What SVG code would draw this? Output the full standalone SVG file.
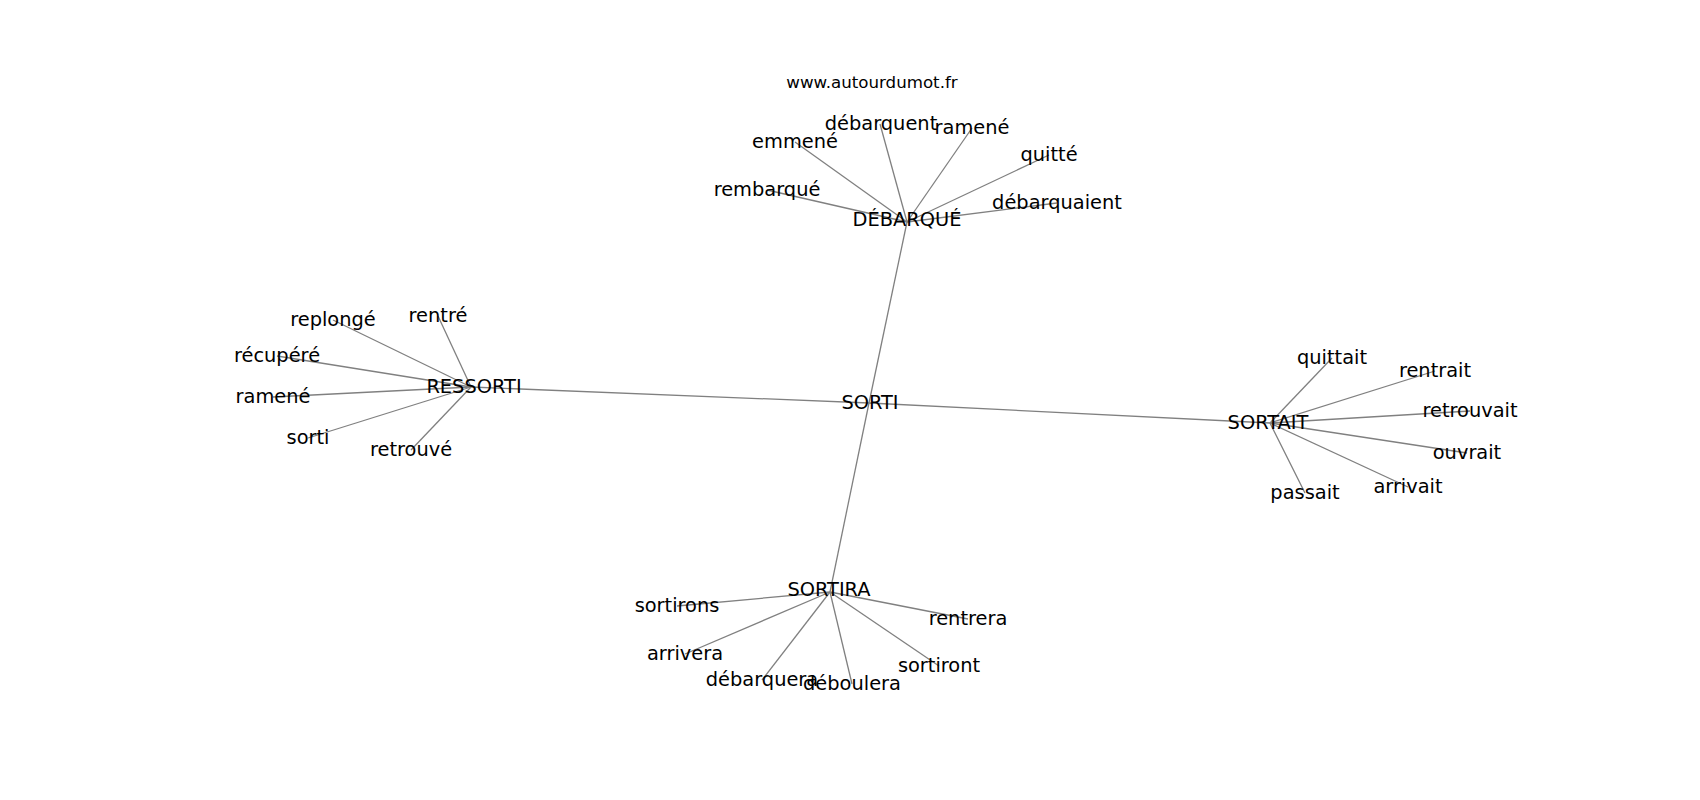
<svg xmlns="http://www.w3.org/2000/svg" width="1700" height="800" viewBox="0 0 1700 800">
<style>
.e{stroke:#808080;stroke-width:1.3;fill:none}
.l{font-family:"DejaVu Sans",sans-serif;font-size:19.4px;fill:#000;text-anchor:middle}
.t{font-family:"DejaVu Sans",sans-serif;font-size:16.67px;fill:#000;text-anchor:middle}
</style>
<rect width="1700" height="800" fill="#fff"/>
<g id="edges">
<line class="e" x1="869" y1="403" x2="907" y2="222"/>
<line class="e" x1="869" y1="403" x2="471" y2="387"/>
<line class="e" x1="869" y1="403" x2="1270" y2="423"/>
<line class="e" x1="869" y1="403" x2="830" y2="592"/>
<line class="e" x1="907" y1="222" x2="880" y2="124"/>
<line class="e" x1="907" y1="222" x2="972" y2="128"/>
<line class="e" x1="907" y1="222" x2="795" y2="142"/>
<line class="e" x1="907" y1="222" x2="1049" y2="155"/>
<line class="e" x1="907" y1="222" x2="767" y2="190"/>
<line class="e" x1="907" y1="222" x2="1057" y2="203"/>
<line class="e" x1="471" y1="387" x2="333" y2="320"/>
<line class="e" x1="471" y1="387" x2="438" y2="316"/>
<line class="e" x1="471" y1="387" x2="277" y2="356"/>
<line class="e" x1="471" y1="387" x2="273" y2="397"/>
<line class="e" x1="471" y1="387" x2="308" y2="438"/>
<line class="e" x1="471" y1="387" x2="411" y2="450"/>
<line class="e" x1="1270" y1="423" x2="1332" y2="358"/>
<line class="e" x1="1270" y1="423" x2="1435" y2="371"/>
<line class="e" x1="1270" y1="423" x2="1470" y2="411"/>
<line class="e" x1="1270" y1="423" x2="1467" y2="453"/>
<line class="e" x1="1270" y1="423" x2="1408" y2="487"/>
<line class="e" x1="1270" y1="423" x2="1305" y2="493"/>
<line class="e" x1="830" y1="592" x2="677" y2="606"/>
<line class="e" x1="830" y1="592" x2="968" y2="619"/>
<line class="e" x1="830" y1="592" x2="685" y2="654"/>
<line class="e" x1="830" y1="592" x2="939" y2="666"/>
<line class="e" x1="830" y1="592" x2="762" y2="680"/>
<line class="e" x1="830" y1="592" x2="852" y2="684"/>
</g>
<g id="title"><text class="t" x="872" y="88">www.autourdumot.fr</text></g>
<g id="n-sorti"><text class="l" x="870" y="409">SORTI</text></g>
<g id="n-debarque"><text class="l" x="907" y="226">DÉBARQUÉ</text></g>
<g id="n-ressorti"><text class="l" x="474" y="393">RESSORTI</text></g>
<g id="n-sortait"><text class="l" x="1268" y="429">SORTAIT</text></g>
<g id="n-sortira"><text class="l" x="829" y="596">SORTIRA</text></g>
<g id="n-debarquent"><text class="l" x="881" y="130">débarquent</text></g>
<g id="n-ramene1"><text class="l" x="972" y="134">ramené</text></g>
<g id="n-emmene"><text class="l" x="795" y="148">emmené</text></g>
<g id="n-quitte"><text class="l" x="1049" y="161">quitté</text></g>
<g id="n-rembarque"><text class="l" x="767" y="196">rembarqué</text></g>
<g id="n-debarquaient"><text class="l" x="1057" y="209">débarquaient</text></g>
<g id="n-replonge"><text class="l" x="333" y="326">replongé</text></g>
<g id="n-rentre"><text class="l" x="438" y="322">rentré</text></g>
<g id="n-recupere"><text class="l" x="277" y="362">récupéré</text></g>
<g id="n-ramene2"><text class="l" x="273" y="403">ramené</text></g>
<g id="n-sorti2"><text class="l" x="308" y="444">sorti</text></g>
<g id="n-retrouve"><text class="l" x="411" y="456">retrouvé</text></g>
<g id="n-quittait"><text class="l" x="1332" y="364">quittait</text></g>
<g id="n-rentrait"><text class="l" x="1435" y="377">rentrait</text></g>
<g id="n-retrouvait"><text class="l" x="1470" y="417">retrouvait</text></g>
<g id="n-ouvrait"><text class="l" x="1467" y="459">ouvrait</text></g>
<g id="n-arrivait"><text class="l" x="1408" y="493">arrivait</text></g>
<g id="n-passait"><text class="l" x="1305" y="499">passait</text></g>
<g id="n-sortirons"><text class="l" x="677" y="612">sortirons</text></g>
<g id="n-rentrera"><text class="l" x="968" y="625">rentrera</text></g>
<g id="n-arrivera"><text class="l" x="685" y="660">arrivera</text></g>
<g id="n-sortiront"><text class="l" x="939" y="672">sortiront</text></g>
<g id="n-debarquera"><text class="l" x="762" y="686">débarquera</text></g>
<g id="n-deboulera"><text class="l" x="852" y="690">déboulera</text></g>
</svg>
